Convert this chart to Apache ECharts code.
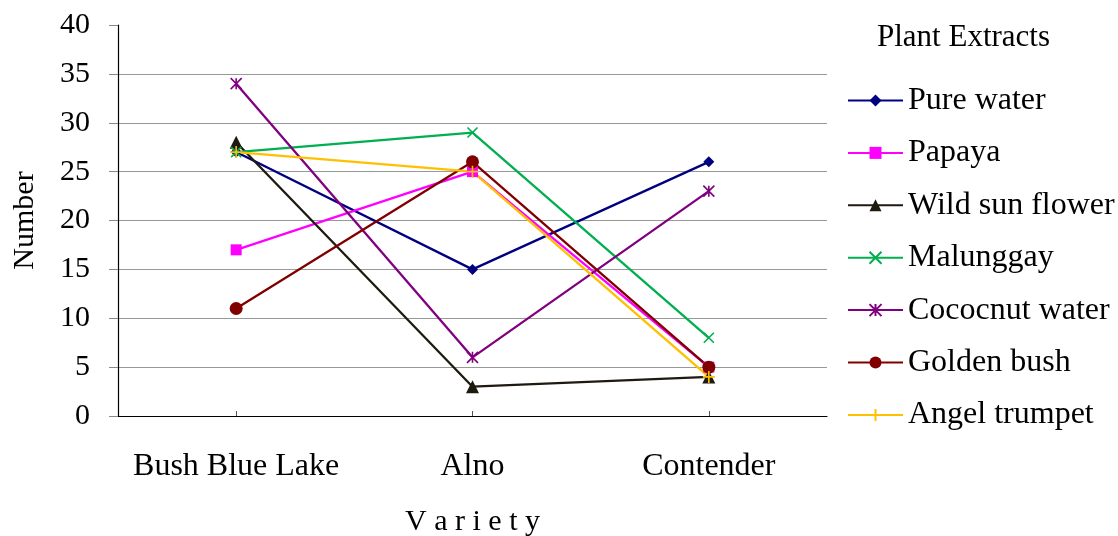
<!DOCTYPE html>
<html>
<head>
<meta charset="utf-8">
<script src="https://cdn.jsdelivr.net/npm/echarts@6/dist/echarts.min.js"></script>
<style>
  html, body { margin: 0; padding: 0; background: #fff; }
  #chart { width: 1118px; height: 536px; }
</style>
</head>
<body>
<div id="chart"></div>
<script>
// Germination counts per bean variety for each plant extract
const varieties = ['Bush Blue Lake', 'Alno', 'Contender'];
const pureWater = [27, 15, 26];
const papaya = [17, 25, 5];
const wildSunFlower = [28, 3, 4];
const malunggay = [27, 29, 8];
const coconutWater = [34, 6, 23];
const goldenBush = [11, 26, 5];
const angelTrumpet = [27, 25, 4];
const yTicks = { min: 0, max: 40, interval: 5 };

const FONT = "'Liberation Serif', 'Times New Roman', serif";

// Stroke-only marker shapes
const SYM_X = 'path://M0,0 L10,10 M10,0 L0,10';
const SYM_STAR = 'path://M0,0 L10,10 M10,0 L0,10 M5,0 L5,10';
const SYM_PLUS = 'path://M5,0 L5,10 M0,5 L10,5';

function lineSeries(name, data, color, symbol, size, strokeOnly) {
  return {
    name: name,
    type: 'line',
    data: data,
    symbol: symbol,
    symbolSize: size,
    showAllSymbol: true,
    lineStyle: { color: color, width: 2.3 },
    itemStyle: strokeOnly
      ? { color: 'rgba(0,0,0,0)', borderColor: color, borderWidth: 1.6 }
      : { color: color, borderWidth: 0 },
    emphasis: { disabled: true },
    animation: false
  };
}

const chart = echarts.init(document.getElementById('chart'), null, { renderer: 'canvas' });
chart.setOption({
  backgroundColor: '#fff',
  textStyle: { fontFamily: FONT },
  title: {
    text: 'Plant Extracts',
    left: 872,
    top: 17,
    textStyle: { fontFamily: FONT, fontSize: 31, fontWeight: 'normal', color: '#000' }
  },
  legend: {
    orient: 'vertical',
    left: 847,
    top: 83,
    padding: 0,
    itemWidth: 55,
    itemHeight: 15,
    itemGap: 17.4,
    selectedMode: false,
    textStyle: { fontFamily: FONT, fontSize: 32, color: '#000', lineHeight: 35, padding: [0, 0, 0, 0] }
  },
  grid: { left: 118, right: 291, top: 25, bottom: 120, outerBoundsMode: 'none', containLabel: false },
  xAxis: {
    type: 'category',
    data: varieties,
    boundaryGap: true,
    name: 'V a r i e t y',
    nameLocation: 'middle',
    nameGap: 91,
    nameTextStyle: { fontFamily: FONT, fontSize: 30, color: '#000' },
    axisLine: { lineStyle: { color: '#000', width: 1.2 } },
    axisTick: { show: true, inside: true, length: 5, alignWithLabel: true, lineStyle: { color: '#555' } },
    axisLabel: { fontFamily: FONT, fontSize: 32, color: '#000', margin: 35, interval: 0 },
    splitLine: { show: false }
  },
  yAxis: {
    type: 'value',
    min: yTicks.min,
    max: yTicks.max,
    interval: yTicks.interval,
    name: 'Number',
    nameLocation: 'middle',
    nameGap: 78,
    nameRotate: 90,
    nameTextStyle: { fontFamily: FONT, fontSize: 30, color: '#000' },
    axisLine: { show: true, lineStyle: { color: '#000', width: 1.2 } },
    axisTick: { show: true, length: 9, lineStyle: { color: '#888' } },
    axisLabel: { fontFamily: FONT, fontSize: 30, color: '#000', margin: 28 },
    splitLine: { show: true, showMinLine: false, showMaxLine: false, lineStyle: { color: '#999', width: 1.2 } }
  },
  series: [
    lineSeries('Pure water', pureWater, '#000080', 'diamond', 11, false),
    lineSeries('Papaya', papaya, '#FF00FF', 'rect', 11, false),
    lineSeries('Wild sun flower', wildSunFlower, '#1F1A10', 'triangle', 13, false),
    lineSeries('Malunggay', malunggay, '#00B050', SYM_X, 10, true),
    lineSeries('Cococnut water', coconutWater, '#800080', SYM_STAR, 11, true),
    lineSeries('Golden bush', goldenBush, '#800000', 'circle', 13, false),
    lineSeries('Angel trumpet', angelTrumpet, '#FFC000', SYM_PLUS, 12, true)
  ]
});
</script>
</body>
</html>
